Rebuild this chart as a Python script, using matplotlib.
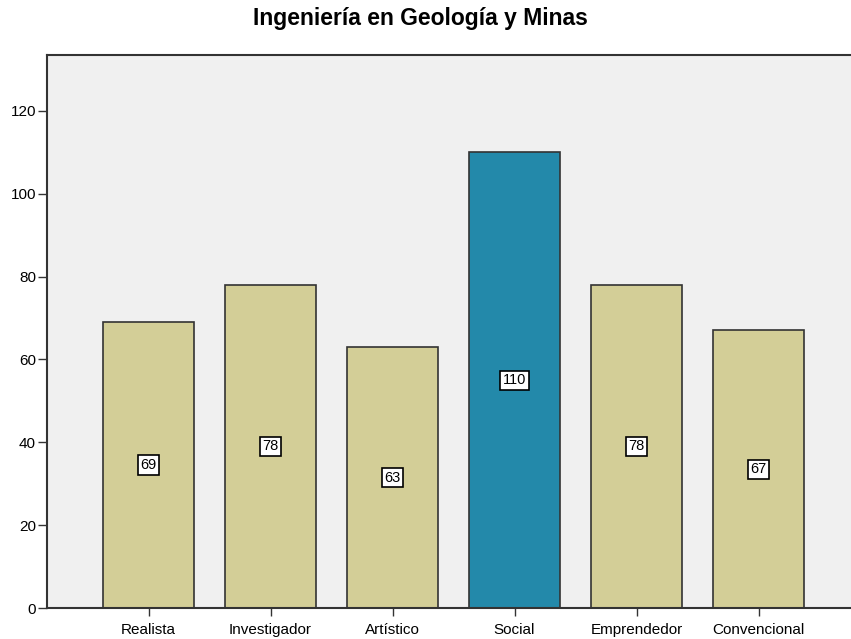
import matplotlib
matplotlib.use("Agg")
import matplotlib.pyplot as plt

# DATA
categories = ["Realista", "Investigador", "Artístico", "Social", "Emprendedor", "Convencional"]
values = [69, 78, 63, 110, 78, 67]
bar_colors = ["#D3CE97", "#D3CE97", "#D3CE97", "#2389AA", "#D3CE97", "#D3CE97"]
yticks = [0, 20, 40, 60, 80, 100, 120]

plt.rcParams["font.family"] = ["Liberation Sans", "DejaVu Sans"]

fig = plt.figure(figsize=(8.51, 6.39), dpi=100)
ax = fig.add_axes([47 / 851, 1 - 608 / 639, 1 - 47 / 851, (608 - 55) / 639])
ax.set_facecolor("#F0F0F0")

x = list(range(len(categories)))
ax.bar(x, values, width=0.75, color=bar_colors, edgecolor="#333333", linewidth=1.2, zorder=2)

for xi, v in zip(x, values):
    ax.text(xi, v / 2, str(v), ha="center", va="center", fontsize=10.5, zorder=3,
            bbox=dict(boxstyle="square,pad=0.18", facecolor="white", edgecolor="black", linewidth=1.2))

ax.set_xlim(-0.832, 5.758)
ax.set_ylim(0, 133.5)
ax.set_xticks(x)
ax.set_xticklabels(categories, fontsize=11)
for lbl in ax.get_xticklabels():
    lbl.set_va("baseline")
ax.set_yticks(yticks)
ax.tick_params(axis="y", labelsize=11, length=6.5, width=1, color="#333333", pad=1.5)
ax.tick_params(axis="x", length=6, width=1, color="#333333", pad=12.5)

for s in ["left", "bottom", "top"]:
    ax.spines[s].set_color("#333333")
    ax.spines[s].set_linewidth(1.5)
ax.spines["right"].set_visible(False)

fig.text(420 / 851, 1 - 18 / 639, "Ingeniería en Geología y Minas", fontsize=16.5,
         fontweight="bold", ha="center", va="center")

fig.savefig("out.png", dpi=100)
